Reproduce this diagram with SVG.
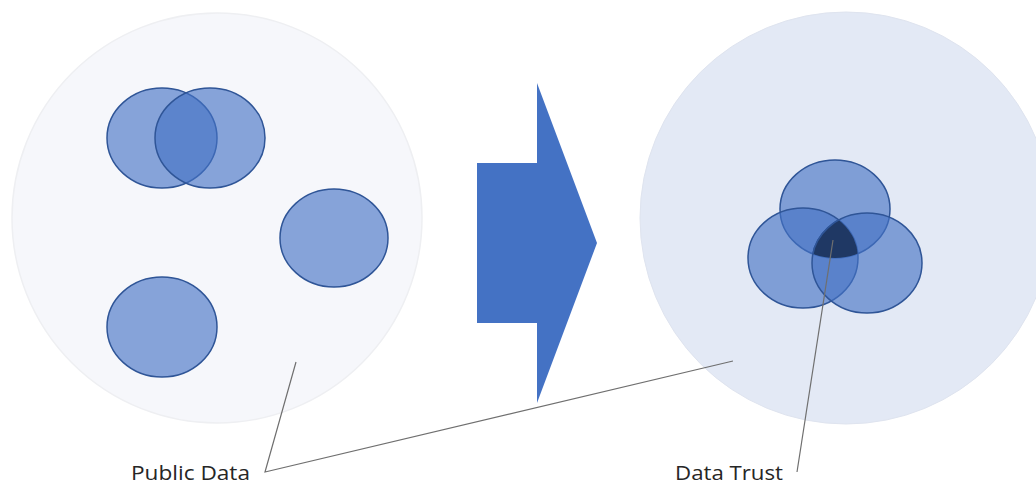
<svg xmlns="http://www.w3.org/2000/svg" width="1036" height="484" viewBox="0 0 1036 484">
<style>
.bg1{fill:#f6f7fb;stroke:#eeeff2;stroke-width:1.5}
.bg2{fill:#e3e9f5;stroke:#dfe4ef;stroke-width:1}
.set{fill:#4472c4;fill-opacity:0.63;stroke:#2f5597;stroke-width:1.5}
.lead{fill:none;stroke:#6f6f6f;stroke-width:1.2}
.lbl{font-family:"Open Sans","Liberation Sans",Arial,sans-serif;font-size:20px;fill:#262626}
</style>
<defs>
<clipPath id="cA"><ellipse cx="835" cy="209" rx="55" ry="49"/></clipPath>
<clipPath id="cB"><ellipse cx="803" cy="258" rx="55" ry="50"/></clipPath>
</defs>
<g id="public-data-pool">
<circle class="bg1" cx="217" cy="218" r="205"/>
<ellipse class="set" cx="162" cy="138" rx="55" ry="50"/>
<ellipse class="set" cx="210" cy="138" rx="55" ry="50"/>
<ellipse class="set" cx="334" cy="238" rx="54" ry="49"/>
<ellipse class="set" cx="162" cy="327" rx="55" ry="50"/>
</g>
<g id="transform-arrow">
<polygon points="477,163 537,163 537,83 597,243 537,403 537,323 477,323" fill="#4472c4"/>
</g>
<g id="data-trust-pool">
<circle class="bg2" cx="846" cy="218" r="206"/>
<ellipse class="set" cx="835" cy="209" rx="55" ry="49"/>
<ellipse class="set" cx="803" cy="258" rx="55" ry="50"/>
<ellipse class="set" cx="867" cy="263" rx="55" ry="50"/>
<g clip-path="url(#cA)"><g clip-path="url(#cB)"><ellipse cx="867" cy="263" rx="55" ry="50" fill="#1f3864" stroke="#2f5597" stroke-width="1.5"/></g></g>
</g>
<g id="connectors">
<polyline class="lead" points="296,362 265,472 733,361"/>
<line class="lead" x1="797" y1="472" x2="833" y2="240"/>
</g>
<g id="label-public-data"><text class="lbl" x="131" y="480" textLength="119" lengthAdjust="spacingAndGlyphs">Public Data</text></g>
<g id="label-data-trust"><text class="lbl" x="675" y="480" textLength="108" lengthAdjust="spacingAndGlyphs">Data Trust</text></g>
</svg>
